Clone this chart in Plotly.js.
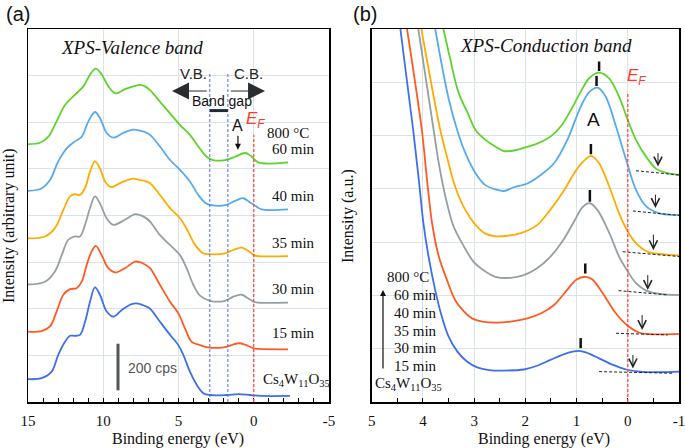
<!DOCTYPE html>
<html><head><meta charset="utf-8">
<script src="https://cdn.plot.ly/plotly-3.0.1.min.js"></script>
<style>html,body{margin:0;padding:0;background:#fff;}#chart{width:685px;height:448px;}</style>
</head><body><div id="chart"></div>
<script>
// ---------- Panel (a): XPS valence band (binding energy eV, offset intensity; 1 unit = 200 cps) ----------
const vbE_cs = [15, 14.1, 13.43, 12.99, 12.54, 12.21, 11.88, 11.55, 11.21, 10.88, 10.55, 10.22, 9.77, 9.33, 8.78, 8.11, 7.67, 7.23, 6.89, 6.23, 5.56, 5.01, 4.68, 4.24, 3.79, 3.35, 2.91, 1.8, 1.0, 0.25, -0.5, -2.4];
const vbI_cs = [0.49, 0.51, 0.65, 1.01, 1.29, 1.42, 1.42, 1.44, 1.72, 2.15, 2.46, 2.30, 1.94, 1.83, 1.97, 2.10, 2.11, 2.06, 2.00, 1.72, 1.44, 1.22, 1.01, 0.65, 0.37, 0.19, 0.15, 0.15, 0.17, 0.15, 0.13, 0.13];
const vbE_15 = [15, 14.1, 13.54, 13.1, 12.65, 12.21, 11.77, 11.43, 11.1, 10.77, 10.5, 10.11, 9.66, 9.22, 8.56, 7.89, 7.56, 7.23, 6.89, 6.23, 5.56, 5.01, 4.57, 4.12, 3.57, 3.02, 2.02, 1.0, 0.5, 0.0, -0.3, -2.28];
const vbI_15 = [1.51, 1.52, 1.62, 1.94, 2.30, 2.42, 2.44, 2.58, 2.94, 3.23, 3.35, 3.15, 2.87, 2.78, 2.87, 3.01, 3.0, 2.95, 2.87, 2.51, 2.15, 1.90, 1.58, 1.29, 1.22, 1.17, 1.17, 1.26, 1.22, 1.15, 1.14, 1.13];
const vbE_30 = [15, 13.87, 13.21, 12.76, 12.32, 11.88, 11.55, 11.21, 10.88, 10.55, 10.22, 9.77, 9.33, 8.56, 7.89, 7.56, 7.23, 6.89, 6.23, 5.34, 4.9, 4.46, 4.01, 3.57, 2.91, 1.91, 1.36, 0.8, 0.36, 0.0, -0.3, -2.28];
const vbI_30 = [2.52, 2.58, 2.80, 3.15, 3.48, 3.55, 3.55, 3.80, 4.16, 4.41, 4.26, 3.94, 3.80, 3.91, 4.03, 4.01, 3.96, 3.87, 3.58, 3.30, 3.15, 2.87, 2.51, 2.28, 2.17, 2.17, 2.26, 2.30, 2.22, 2.15, 2.13, 2.13];
const vbE_35 = [15, 13.87, 13.21, 12.65, 12.21, 11.88, 11.55, 11.21, 10.88, 10.55, 10.22, 9.88, 9.49, 8.78, 8.0, 7.56, 7.23, 6.89, 6.23, 5.56, 4.9, 4.35, 3.9, 3.35, 2.91, 1.91, 1.36, 0.8, 0.36, 0.0, -0.3, -2.28];
const vbI_35 = [3.51, 3.55, 3.73, 4.12, 4.41, 4.46, 4.44, 4.59, 4.94, 5.16, 5.01, 4.73, 4.61, 4.71, 4.79, 4.76, 4.74, 4.69, 4.44, 4.16, 3.94, 3.65, 3.37, 3.19, 3.17, 3.19, 3.26, 3.31, 3.24, 3.15, 3.13, 3.13];
const vbE_40 = [15, 14.1, 13.54, 12.99, 12.43, 11.88, 11.43, 10.99, 10.55, 10.22, 9.77, 9.33, 8.67, 8.0, 7.56, 7.23, 6.89, 6.23, 5.56, 4.9, 4.24, 3.68, 3.13, 2.57, 1.8, 1.13, 0.69, 0.25, -0.19, -0.53, -2.28];
const vbI_40 = [4.53, 4.58, 4.76, 5.16, 5.44, 5.59, 5.69, 6.02, 6.22, 6.09, 5.77, 5.67, 5.77, 5.84, 5.82, 5.79, 5.73, 5.48, 5.19, 4.98, 4.73, 4.44, 4.25, 4.21, 4.23, 4.33, 4.37, 4.28, 4.19, 4.13, 4.13];
const vbE_60 = [15, 14.2, 13.65, 13.1, 12.54, 11.88, 11.32, 10.88, 10.5, 10.11, 9.66, 9.18, 8.56, 7.89, 7.56, 7.23, 6.89, 6.23, 5.56, 4.9, 4.24, 3.68, 3.13, 2.69, 1.91, 1.25, 0.58, 0.2, -0.3, -2.28];
const vbI_60 = [5.53, 5.56, 5.69, 6.02, 6.37, 6.59, 6.77, 7.02, 7.15, 7.03, 6.77, 6.62, 6.71, 6.78, 6.80, 6.77, 6.69, 6.44, 6.19, 5.94, 5.73, 5.48, 5.26, 5.19, 5.19, 5.26, 5.34, 5.28, 5.14, 5.14];

// ---------- Panel (b): XPS conduction band (binding energy eV, offset intensity a.u.) ----------
const cbE_cs = [4.44, 4.19, 4.08, 3.99, 3.89, 3.76, 3.63, 3.50, 3.33, 3.14, 2.94, 2.71, 2.42, 2.03, 1.77, 1.51, 1.24, 1.05, 0.95, 0.82, 0.56, 0.30, 0.03, -0.23, -0.62, -1.0];
const cbI_cs = [7.0, 5.10, 4.17, 3.35, 2.73, 2.10, 1.60, 1.23, 0.95, 0.76, 0.65, 0.60, 0.59, 0.61, 0.68, 0.79, 0.90, 0.95, 0.96, 0.93, 0.82, 0.70, 0.61, 0.57, 0.56, 0.57];
const cbE_15 = [4.31, 4.02, 3.92, 3.82, 3.69, 3.53, 3.37, 3.20, 3.04, 2.84, 2.58, 2.29, 1.96, 1.70, 1.44, 1.18, 1.0, 0.82, 0.69, 0.49, 0.23, 0.0, -0.23, -0.49, -1.0];
const cbI_15 = [7.0, 5.10, 4.17, 3.35, 2.73, 2.29, 1.91, 1.70, 1.57, 1.51, 1.49, 1.51, 1.57, 1.66, 1.82, 2.11, 2.30, 2.35, 2.30, 2.04, 1.66, 1.43, 1.30, 1.27, 1.28];
const cbE_30 = [4.09, 3.79, 3.69, 3.56, 3.40, 3.20, 3.01, 2.78, 2.58, 2.29, 2.03, 1.77, 1.51, 1.24, 1.03, 0.88, 0.74, 0.59, 0.36, 0.17, 0.0, -0.16, -0.36, -0.62, -1.0];
const cbI_30 = [7.0, 5.10, 4.48, 3.85, 3.29, 2.92, 2.63, 2.45, 2.35, 2.33, 2.38, 2.51, 2.73, 3.07, 3.42, 3.66, 3.73, 3.60, 3.17, 2.73, 2.45, 2.23, 2.09, 2.03, 2.01];
const cbE_35 = [4.03, 3.66, 3.53, 3.37, 3.17, 2.97, 2.78, 2.58, 2.35, 2.09, 1.77, 1.51, 1.24, 1.05, 0.92, 0.72, 0.56, 0.36, 0.17, 0.0, -0.16, -0.36, -0.62, -1.0];
const cbI_35 = [7.0, 5.10, 4.60, 4.04, 3.60, 3.32, 3.16, 3.11, 3.12, 3.17, 3.32, 3.61, 3.98, 4.29, 4.46, 4.62, 4.48, 4.04, 3.54, 3.20, 2.98, 2.83, 2.78, 2.75];
const cbE_40 = [3.76, 3.50, 3.33, 3.17, 2.97, 2.78, 2.58, 2.42, 2.22, 1.96, 1.70, 1.44, 1.18, 0.92, 0.75, 0.59, 0.43, 0.23, 0.03, -0.16, -0.36, -0.62, -1.0];
const cbI_40 = [7.0, 5.70, 5.10, 4.67, 4.29, 4.07, 3.99, 3.96, 4.03, 4.10, 4.26, 4.48, 4.92, 5.54, 5.82, 5.90, 5.73, 5.17, 4.54, 3.98, 3.67, 3.54, 3.51];
const cbE_60 = [3.60, 3.47, 3.31, 3.11, 2.97, 2.78, 2.58, 2.42, 2.22, 2.03, 1.77, 1.51, 1.31, 1.11, 0.92, 0.75, 0.56, 0.36, 0.17, 0.0, -0.16, -0.36, -0.55, -0.75, -1.0];
const cbI_60 = [7.0, 6.45, 5.82, 5.39, 5.10, 4.92, 4.79, 4.71, 4.72, 4.77, 4.85, 4.98, 5.17, 5.48, 5.82, 6.08, 6.18, 6.07, 5.73, 5.29, 4.92, 4.60, 4.38, 4.30, 4.26];

// Peak positions (b) marked with bars: energy, bar bottom, bar top
const peakE   = [0.92, 0.83, 0.74, 0.72, 0.61, 0.56];
const peakLo  = [1.01, 2.41, 3.76, 4.65, 5.93, 6.21];
const peakHi  = [1.20, 2.60, 3.98, 4.84, 6.12, 6.39];
// Baseline extrapolation lines (b): start/end energy and intensity
const baseE0 = [0.56, 0.23, 0.18, 0.10, -0.10, -0.16];
const baseE1 = [-0.88, -0.78, -0.78, -1.01, -1.01, -1.01];
const baseI0 = [0.57, 1.29, 2.09, 2.82, 3.585, 4.34];
const baseI1 = [0.54, 1.26, 2.01, 2.73, 3.50, 4.26];
// Onset arrows (b): energy, tail, tip
const onsetE    = [-0.10, -0.28, -0.39, -0.50, -0.54, -0.59];
const onsetTail = [0.91, 1.66, 2.41, 3.17, 3.92, 4.70];
const onsetTip  = [0.63, 1.35, 2.10, 2.85, 3.64, 4.42];

// Band gap edges and Fermi level (a)
const gapEdges = [2.92, 1.72];
const fermiE = 0;

const sampleLabels = ["Cs<sub>4</sub>W<sub>11</sub>O<sub>35</sub>", "15 min", "30 min", "35 min", "40 min", "60 min"];
const colors = ["#3d6fe8", "#ff5a22", "#969fa4", "#ffab00", "#56aaf0", "#5fd22c"];

const vbE = [vbE_cs, vbE_15, vbE_30, vbE_35, vbE_40, vbE_60];
const vbI = [vbI_cs, vbI_15, vbI_30, vbI_35, vbI_40, vbI_60];
const cbE = [cbE_cs, cbE_15, cbE_30, cbE_35, cbE_40, cbE_60];
const cbI = [cbI_cs, cbI_15, cbI_30, cbI_35, cbI_40, cbI_60];

const xTicksA = [15, 10, 5, 0, -5];
const xTicksB = [5, 4, 3, 2, 1, 0, -1];

const W = 685, H = 448;
const traces = [];
for (let i = 0; i < 6; i++) {
  traces.push({x: vbE[i], y: vbI[i], xaxis: 'x', yaxis: 'y', mode: 'lines',
    line: {color: colors[i], width: 1.8, shape: 'spline', smoothing: 1}, hoverinfo: 'skip', showlegend: false});
  traces.push({x: cbE[i], y: cbI[i], xaxis: 'x2', yaxis: 'y2', mode: 'lines',
    line: {color: colors[i], width: 1.8, shape: 'spline', smoothing: 0.9}, hoverinfo: 'skip', showlegend: false});
  traces.push({x: [baseE0[i], baseE1[i]], y: [baseI0[i], baseI1[i]], xaxis: 'x2', yaxis: 'y2', mode: 'lines',
    line: {color: '#222', width: 1, dash: '3px,2px'}, hoverinfo: 'skip', showlegend: false});
}

const serif = 'Liberation Serif';
const sans = 'Liberation Sans';

function pp(px, py) { return {xref: 'paper', yref: 'paper', x: px / W, y: 1 - py / H}; }
function txt(px, py, text, font, extra) {
  return Object.assign(pp(px, py), {text: text, showarrow: false, font: font, xanchor: 'center', yanchor: 'middle'}, extra || {});
}
const fSerif15 = {family: serif, size: 15, color: '#111'};
const anns = [
  txt(18, 14, '(a)', {family: sans, size: 20, color: '#111'}),
  txt(365, 14, '(b)', {family: sans, size: 20, color: '#111'}),
  txt(132, 48, '<i>XPS-Valence band</i>', {family: serif, size: 19, color: '#111'}),
  txt(546, 46, '<i>XPS-Conduction band</i>', {family: serif, size: 19, color: '#111'}),
  txt(193, 73, 'V.B.', {family: sans, size: 15, color: '#222'}),
  txt(248, 73, 'C.B.', {family: sans, size: 15, color: '#222'}),
  txt(222, 101, 'Band gap', {family: sans, size: 14, color: '#111'}),
  txt(256, 120, '<i>E<sub>F</sub></i>', {family: sans, size: 17, color: '#ff3a2a'}),
  txt(636, 77, '<i>E<sub>F</sub></i>', {family: sans, size: 17, color: '#ff3a2a'}),
  txt(288, 133, '800 °C', fSerif15),
  txt(593, 120, 'A', {family: sans, size: 19, color: '#111'}),
  txt(126, 368, '200 cps', {family: sans, size: 14, color: '#555'}, {xanchor: 'left'}),
  txt(408, 277, '800 °C', fSerif15),
  txt(178, 439, 'Binding energy (eV)', {family: serif, size: 16, color: '#111'}),
  txt(544, 439, 'Binding energy (eV)', {family: serif, size: 16, color: '#111'}),
  txt(9, 226, 'Intensity (arbitrary unit)', {family: serif, size: 16, color: '#111'}, {textangle: -90}),
  txt(348, 216, 'Intensity (a.u.)', {family: serif, size: 16, color: '#111'}, {textangle: -90})
];
const labelYA = [380, 333, 289, 243, 196, 149];
const labelYB = [384, 366, 348, 331, 313, 295];
for (let i = 0; i < 6; i++) {
  anns.push(txt(i === 0 ? 296 : 293, labelYA[i], sampleLabels[i], fSerif15));
  anns.push(txt(i === 0 ? 408 : 415, labelYB[i], sampleLabels[i], fSerif15));
  anns.push({xref: 'x2', yref: 'y2', axref: 'x2', ayref: 'y2', x: onsetE[i], y: onsetTip[i], ax: onsetE[i], ay: onsetTail[i],
    text: '', showarrow: true, arrowhead: 5, arrowsize: 1.6, arrowwidth: 1, arrowcolor: '#222'});
}
// V.B. / C.B. arrows, "A" arrow (a), time arrow (b)
anns.push({xref: 'x', yref: 'y', axref: 'x', ayref: 'y', x: 5.43, y: 6.67, ax: gapEdges[0] + 0.1, ay: 6.67, text: '', showarrow: true,
  arrowhead: 2, arrowsize: 3.4, arrowwidth: 1, arrowcolor: '#2a2d30'});
anns.push({xref: 'x', yref: 'y', axref: 'x', ayref: 'y', x: -0.75, y: 6.67, ax: gapEdges[1] - 0.1, ay: 6.67, text: '', showarrow: true,
  arrowhead: 2, arrowsize: 3.4, arrowwidth: 1, arrowcolor: '#2a2d30'});
anns.push({xref: 'x', yref: 'y', x: 1.05, y: 5.41, ax: 0, ay: -24, text: 'A', showarrow: true,
  arrowhead: 2, arrowsize: 1, arrowwidth: 1.2, arrowcolor: '#111', font: {family: sans, size: 16, color: '#111'}});
anns.push(Object.assign(pp(383, 290), {ax: 0, ay: 80, text: '', showarrow: true, arrowhead: 2, arrowsize: 1, arrowwidth: 1.2, arrowcolor: '#111'}));

const shapes = [
  {type: 'line', xref: 'x', yref: 'y', x0: gapEdges[0], x1: gapEdges[0], y0: 0, y1: 7.08, line: {color: '#4a6cf0', width: 1, dash: '3px,2px'}},
  {type: 'line', xref: 'x', yref: 'y', x0: gapEdges[1], x1: gapEdges[1], y0: 0, y1: 7.04, line: {color: '#4a6cf0', width: 1, dash: '3px,2px'}},
  {type: 'line', xref: 'x', yref: 'y', x0: gapEdges[0], x1: gapEdges[1], y0: 6.25, y1: 6.25, line: {color: '#1e2a36', width: 3}},
  {type: 'line', xref: 'x', yref: 'y', x0: fermiE, x1: fermiE, y0: 0, y1: 5.73, line: {color: '#ff4a3a', width: 1.3, dash: '3px,2px'}},
  {type: 'line', xref: 'x2', yref: 'y2', x0: fermiE, x1: fermiE, y0: 0, y1: 5.82, line: {color: '#ff4a3a', width: 1.3, dash: '3px,2px'}},
  {type: 'line', xref: 'x', yref: 'y', x0: 9.02, x1: 9.02, y0: 0.25, y1: 1.25, line: {color: '#50565c', width: 3}}
];
for (let i = 0; i < 6; i++) {
  shapes.push({type: 'line', xref: 'x2', yref: 'y2', x0: peakE[i], x1: peakE[i], y0: peakLo[i], y1: peakHi[i], line: {color: '#111', width: 2.5}});
}

const gridC = '#dbe3ea';
const layout = {
  width: W, height: H, margin: {l: 0, r: 0, t: 0, b: 0}, paper_bgcolor: '#fff', plot_bgcolor: '#fff', showlegend: false,
  xaxis: {domain: [28 / W, 329 / W], range: [15, -5], anchor: 'y', tickmode: 'array', tickvals: xTicksA, ticktext: xTicksA.map(String),
    ticks: 'inside', ticklen: 4, tickcolor: '#000', showline: true, mirror: true, linecolor: '#000', linewidth: 1.5, ticklabelstandoff: 4,
    ticklabeloverflow: 'allow', showgrid: true, gridcolor: gridC, gridwidth: 1, zeroline: false, tickfont: {family: serif, size: 15, color: '#111'},
    minor: {dtick: 1, tick0: 0, ticks: 'inside', ticklen: 4, tickcolor: '#000', showgrid: false}},
  yaxis: {domain: [46 / H, 419 / H], range: [0, 8], anchor: 'x', dtick: 1, tick0: 0, showticklabels: false, ticks: '',
    showline: true, mirror: true, linecolor: '#000', linewidth: 1.5, showgrid: true, gridcolor: gridC, zeroline: false},
  xaxis2: {domain: [371.7 / W, 679 / W], range: [5, -1], anchor: 'y2', tickmode: 'array', tickvals: xTicksB, ticktext: xTicksB.map(String),
    ticks: 'inside', ticklen: 4, tickcolor: '#000', showline: true, mirror: true, linecolor: '#000', linewidth: 1.5, ticklabelstandoff: 4,
    ticklabeloverflow: 'allow', showgrid: true, gridcolor: gridC, gridwidth: 1, zeroline: false, tickfont: {family: serif, size: 15, color: '#111'},
    minor: {dtick: 0.5, tick0: 0, ticks: 'inside', ticklen: 4, tickcolor: '#000', showgrid: false}},
  yaxis2: {domain: [46 / H, 419 / H], range: [0, 7], anchor: 'x2', dtick: 1, tick0: 0, showticklabels: false, ticks: '',
    showline: true, mirror: true, linecolor: '#000', linewidth: 1.5, showgrid: true, gridcolor: gridC, zeroline: false},
  annotations: anns, shapes: shapes
};
Plotly.newPlot('chart', traces, layout, {staticPlot: true, displayModeBar: false});
</script></body></html>
